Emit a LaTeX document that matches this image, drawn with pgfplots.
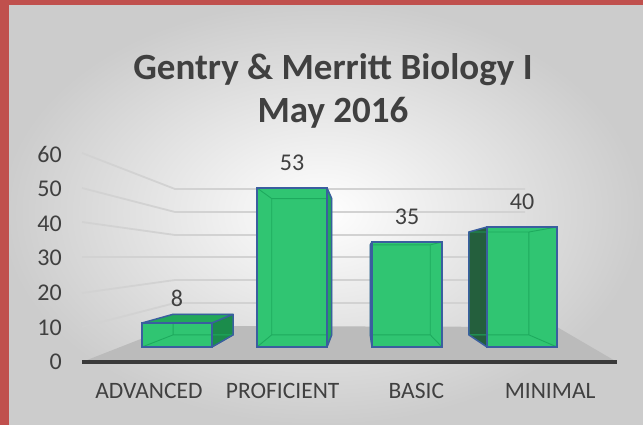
\documentclass[border=0pt]{standalone}
\usepackage{fontspec}
\setmainfont{Carlito}
\usepackage{pgfplots}
\pgfplotsset{compat=1.18}
\usepackage{pgfplotstable}
\definecolor{redb}{HTML}{C0504D}
\definecolor{txt}{HTML}{404040}
\definecolor{front}{HTML}{30C572}
\definecolor{outl}{HTML}{3A5E9F}
\definecolor{inner}{HTML}{1EAA5E}
\definecolor{sideA}{HTML}{1B8C4B}
\definecolor{topA}{HTML}{22A85A}
\definecolor{sideB}{HTML}{22A95C}
\definecolor{sideC}{HTML}{1F6F43}
\definecolor{sideD}{HTML}{245F3D}
\definecolor{floorc}{HTML}{BBBBBB}
\definecolor{gridc}{HTML}{D2D2D2}
\definecolor{basec}{HTML}{3A3A3A}
\pgfplotsset{/pgf/number format/assume math mode=true}

\pgfplotstableread{
x v
0 8
1 53
2 35
3 40
}\datatable

\begin{document}
\begin{tikzpicture}[x=1pt,y=1pt]
\useasboundingbox (0,0) rectangle (643,425);
\shade[inner color=white, outer color=gray!40] (0,0) rectangle (643,425);
\fill[redb] (0,0) rectangle (9,425);
\fill[redb] (0,420) rectangle (643,425);

\node[anchor=base, text=txt, font=\bfseries\fontsize{37}{44}\selectfont] at (333,345) {Gentry \& Merritt Biology I};
\node[anchor=base, text=txt, font=\bfseries\fontsize{37}{44}\selectfont] at (333,302) {May 2016};

% decoration axis in pixel coordinates (floor, grid, base line)
\begin{axis}[at={(0pt,0pt)}, anchor=south west, width=643pt, height=425pt, scale only axis,
  xmin=0, xmax=643, ymin=0, ymax=425, y dir=reverse, hide axis, clip=false]
\addplot[draw=none, fill=floorc] coordinates {(82,362) (617,362) (557,327) (174,326)} -- cycle;
\addplot[gridc, line width=1.8pt] coordinates {(82,153) (175,189) (525,189)};
\addplot[gridc, line width=1.8pt] coordinates {(82,188) (175,212) (525,212)};
\addplot[gridc, line width=1.8pt] coordinates {(82,222) (175,235) (525,235)};
\addplot[gridc, line width=1.8pt] coordinates {(82,257) (175,257) (525,257)};
\addplot[gridc, line width=1.8pt] coordinates {(82,293) (175,280) (525,280)};
\addplot[gridc, line width=1.8pt] coordinates {(82,327) (175,303) (525,303)};
\addplot[basec, line width=3.5pt] coordinates {(82,362) (617,362)};
\end{axis}

% front plane axis: tick labels and category names
\begin{axis}[at={(82pt,63pt)}, anchor=south west, width=535pt, height=208pt, scale only axis,
  xmin=-0.5, xmax=3.5, ymin=0, ymax=60,
  ytick={0,10,20,30,40,50,60}, xtick={0,1,2,3},
  xticklabels={ADVANCED,PROFICIENT,BASIC,MINIMAL},
  axis line style={draw=none}, major tick length=0pt, tick style={draw=none},
  ticklabel style={text=txt, inner sep=0pt},
  yticklabel style={font=\fontsize{24}{28}\selectfont, anchor=east, xshift=-20pt},
  xticklabel style={font=\fontsize{23.5}{28}\selectfont, anchor=base, yshift=-37pt}]
\addplot[draw=none] coordinates {(0,0)};
\end{axis}

% bars
\begin{axis}[at={(119.5pt,78pt)}, anchor=south west, width=460pt, height=180pt, scale only axis,
  xmin=-0.5, xmax=3.5, ymin=0, ymax=60, hide axis, clip=false, unbounded coords=jump]
% side and top faces
\addplot[fill=sideA, draw=none] coordinates {(0.3043,0) (0.3043,8) (0.4883,10.91) (0.4883,4.05)} -- cycle;
\addplot[fill=topA, draw=none] coordinates {(-0.3043,8) (0.3043,8) (0.4883,10.91) (-0.0333,10.91)} -- cycle;
\addplot[fill=sideB, draw=none] coordinates {(1.3043,0) (1.3043,53) (1.3453,49.47) (1.3453,4.05)} -- cycle;
\addplot[fill=sideC, draw=none] coordinates {(1.6807,4.05) (1.6807,34.05) (1.6957,35) (1.6957,0)} -- cycle;
\addplot[fill=sideD, draw=none] coordinates {(2.5377,4.05) (2.5377,38.33) (2.6957,40) (2.6957,0)} -- cycle;
% front faces
\addplot[ybar, bar width=70pt, fill=front, draw=none] table[x=x, y=v] {\datatable};
% hidden edges seen through the bars
\addplot[inner, line width=0.9pt] coordinates {(-0.0333,4.05) (-0.0333,10.91) (0.4883,10.91) (0.4883,4.05) (-0.0333,4.05) (nan,nan) (-0.3043,0) (-0.0333,4.05) (nan,nan) (0.3043,0) (0.4883,4.05)};
\addplot[inner, line width=0.9pt] coordinates {(0.8237,4.05) (0.8237,49.47) (1.3453,49.47) (1.3453,4.05) (0.8237,4.05) (nan,nan) (0.6957,0) (0.8237,4.05) (nan,nan) (0.6957,53) (0.8237,49.47) (nan,nan) (1.3043,53) (1.3453,49.47) (nan,nan) (1.3043,0) (1.3453,4.05)};
\addplot[inner, line width=0.9pt] coordinates {(1.6807,4.05) (1.6807,34.05) (2.2023,34.05) (2.2023,4.05) (1.6807,4.05) (nan,nan) (2.3043,0) (2.2023,4.05) (nan,nan) (2.3043,35) (2.2023,34.05) (nan,nan) (1.6957,35) (1.6807,34.05) (nan,nan) (1.6957,0) (1.6807,4.05)};
\addplot[inner, line width=0.9pt] coordinates {(2.5377,4.05) (2.5377,38.33) (3.0593,38.33) (3.0593,4.05) (2.5377,4.05) (nan,nan) (3.3043,0) (3.0593,4.05) (nan,nan) (3.3043,40) (3.0593,38.33)};
% outlines
\addplot[outl, line width=1.5pt, line join=round] coordinates {(0.3043,0) (0.4883,4.05) (0.4883,10.91) (-0.0333,10.91) (-0.3043,8) (0.3043,8) (0.4883,10.91)};
\addplot[outl, line width=1.5pt, line join=round] coordinates {(1.3043,0) (1.3453,4.05) (1.3453,49.47) (1.3043,53)};
\addplot[outl, line width=1.5pt, line join=round] coordinates {(1.6957,0) (1.6807,4.05) (1.6807,34.05) (1.6957,35)};
\addplot[outl, line width=1.5pt, line join=round] coordinates {(2.6957,0) (2.5377,4.05) (2.5377,38.33) (2.6957,40)};
\addplot[ybar, bar width=70pt, fill=none, draw=outl, line width=1.5pt,
  nodes near coords,
  every node near coord/.append style={font=\fontsize{24}{28}\selectfont, text=txt, anchor=center, yshift=25pt}]
  table[x=x, y=v] {\datatable};
\end{axis}
\end{tikzpicture}
\end{document}
